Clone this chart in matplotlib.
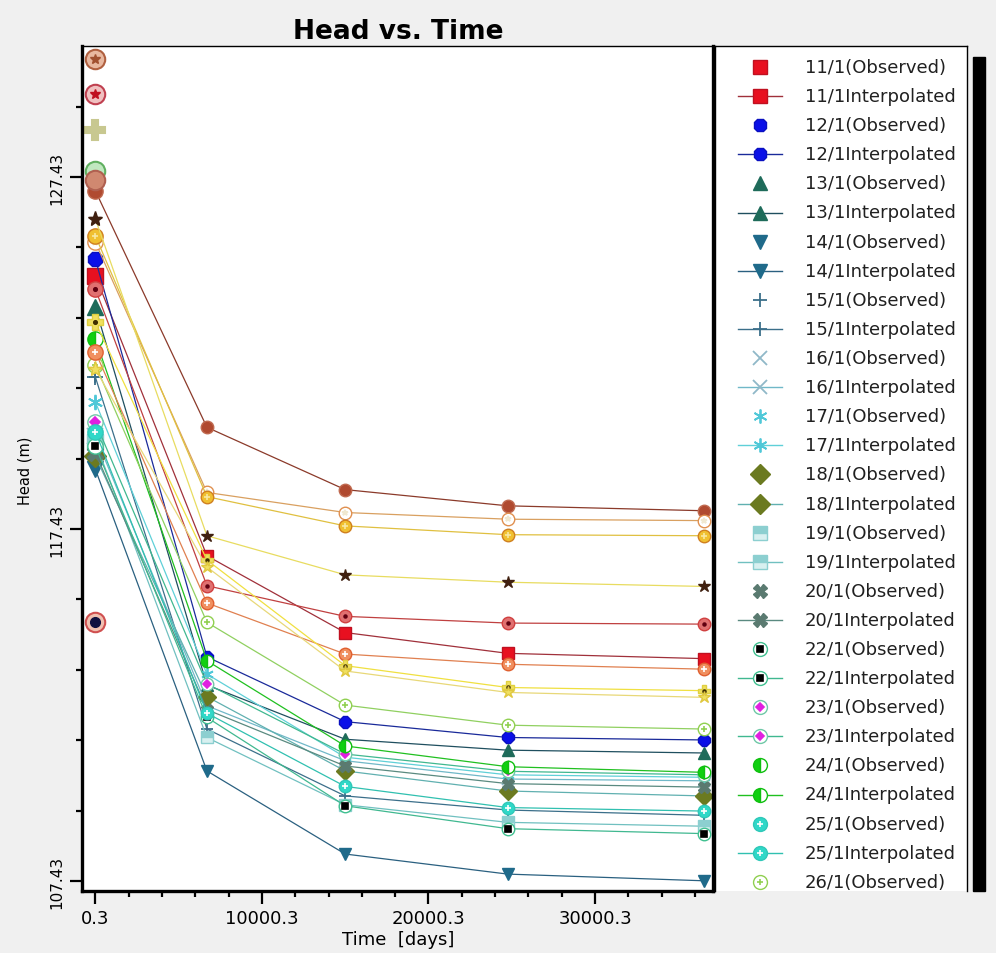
import matplotlib
matplotlib.use("Agg")
import matplotlib.pyplot as plt
from matplotlib.patches import Rectangle

# time of each model output (days)
times = [0.3, 6700, 15000, 24760, 36540]

# interpolated heads (m) per well at the five times
h11 = [124.63, 116.67, 114.49, 113.90, 113.75]
h12 = [125.10, 113.80, 111.96, 111.51, 111.44]
h13 = [123.73, 113.00, 111.46, 111.15, 111.07]
h14 = [119.13, 110.56, 108.20, 107.63, 107.44]
h15 = [121.75, 111.75, 109.85, 109.45, 109.30]
h16 = [120.07, 112.41, 110.85, 110.33, 110.28]
h17 = [121.04, 113.31, 110.95, 110.45, 110.38]
h18 = [119.50, 112.67, 110.56, 109.99, 109.85]
h19 = [119.90, 111.51, 109.60, 109.10, 108.99]
h20 = [119.60, 112.30, 110.70, 110.20, 110.10]
h22 = [119.79, 112.08, 109.57, 108.92, 108.78]
h23 = [120.47, 113.03, 111.04, 110.55, 110.45]
h24 = [122.83, 113.69, 111.27, 110.68, 110.52]
h25 = [120.20, 112.20, 110.12, 109.52, 109.42]
h26 = [122.10, 114.78, 112.43, 111.86, 111.75]
h27 = [127.04, 120.32, 118.55, 118.09, 117.95]
h28 = [125.58, 118.47, 117.90, 117.71, 117.67]
h29 = [125.76, 118.35, 117.52, 117.27, 117.24]
h30 = [126.24, 117.24, 116.13, 115.92, 115.80]
h31 = [124.25, 115.82, 114.95, 114.76, 114.73]
h32 = [122.46, 115.33, 113.88, 113.59, 113.45]
h33 = [123.31, 116.55, 113.55, 112.93, 112.84]
h34 = [121.98, 116.35, 113.40, 112.79, 112.65]

wells = ["11/1", "12/1", "13/1", "14/1", "15/1", "16/1", "17/1", "18/1", "19/1", "20/1",
         "22/1", "23/1", "24/1", "25/1", "26/1", "27/1", "28/1", "29/1", "30/1", "31/1",
         "32/1", "33/1", "34/1"]
interp = [h11, h12, h13, h14, h15, h16, h17, h18, h19, h20, h22, h23, h24, h25, h26,
          h27, h28, h29, h30, h31, h32, h33, h34]

# observed heads at t = 0.3 without a matching line
extra_obs_head = [130.78, 129.79, 128.77, 127.61, 127.33, 114.80]

x_major = [0.3, 10000.3, 20000.3, 30000.3]
y_major = [107.43, 117.43, 127.43]

# style: line colour, marker, face, edge, fillstyle, alt face, inner marker, inner colour
S = {
    "11/1": ("#a0303a", "s", "#e81020", "#c01020", "full", None, None, None),
    "12/1": ("#1a2a9a", "8", "#0a10e8", "#0a10c0", "full", None, None, None),
    "13/1": ("#1f4f5f", "^", "#1e6b5a", "#1e6b5a", "full", None, None, None),
    "14/1": ("#2a6080", "v", "#1f6a8a", "#1f6a8a", "full", None, None, None),
    "15/1": ("#3b6f8a", "+", "#3b6f8a", "#3b6f8a", "full", None, None, None),
    "16/1": ("#70b8c8", "x", "#90b8c8", "#90b8c8", "full", None, None, None),
    "17/1": ("#5fd0d8", (6, 2, 0), "#50c8d8", "#50c8d8", "full", None, None, None),
    "18/1": ("#60b0b0", "D", "#6b7a20", "#6b7a20", "full", None, None, None),
    "19/1": ("#70c0c0", "s", "#8ccfd0", "#8ccfd0", "top", "#d8f0f0", None, None),
    "20/1": ("#5a8a80", "X", "#5a7a70", "#5a7a70", "full", None, None, None),
    "22/1": ("#40b890", "o", "white", "#40c090", "full", None, "s", "black"),
    "23/1": ("#40b890", "o", "white", "#70c8a8", "full", None, "D", "#e020e0"),
    "24/1": ("#20c020", "o", "#10d010", "#10c010", "left", "white", None, None),
    "25/1": ("#30c0b0", "o", "#30d8c8", "#30c8b8", "full", None, "+", "white"),
    "26/1": ("#90d060", "o", "white", "#90d050", "full", None, "+", "#90d050"),
    "27/1": ("#8b3a2a", "o", "#b04a30", "#c06a50", "full", None, None, None),
    "28/1": ("#d9a060", "o", "white", "#e09050", "full", None, "*", "#f0e8d0"),
    "29/1": ("#e0c040", "o", "#f0c030", "#d08020", "full", None, "+", "#f8e8a0"),
    "30/1": ("#e8dc60", "*", "#402010", "#402010", "full", None, None, None),
    "31/1": ("#c04040", "o", "#e07070", "#d04040", "full", None, ".", "#600010"),
    "32/1": ("#e08050", "o", "#f09060", "#e06030", "full", None, "+", "white"),
    "33/1": ("#f0e040", "P", "#f0e060", "#e0d040", "full", None, ".", "#403000"),
    "34/1": ("#e8d878", "*", "#f0e060", "#e0c840", "full", None, None, None),
}

extra_styles = [
    ("o", "#e8b8a0", "#b06040", "*", "#a05030"),
    ("o", "#f0c0c0", "#c04050", "*", "#c01020"),
    ("P", "#c8c890", "#c8c890", None, None),
    ("o", "#c0e8c0", "#60b060", None, None),
    ("o", "#d08870", "#b06050", None, None),
    ("o", "#f0c0b0", "#d05050", "o", "#101040"),
]


def draw(ax, x, y, st, with_line=True, ms=9, lw=0.9, clip=True):
    lc, mk, fc, ec, fs, alt, inner, ic = st
    kw = dict(marker=mk, markersize=ms, markerfacecolor=fc, markeredgecolor=ec,
              fillstyle=fs, clip_on=clip)
    if alt is not None:
        kw["markerfacecoloralt"] = alt
    if mk in ("+", "x", (6, 2, 0)):
        kw["markeredgewidth"] = 1.3
    ax.plot(x, y, color=lc, linewidth=lw if with_line else 0,
            linestyle="-" if with_line else "none", **kw)
    if inner is not None:
        ax.plot(x, y, linestyle="none", marker=inner, markersize=ms * 0.45,
                color=ic, markeredgecolor=ic, markeredgewidth=1.2, clip_on=clip)


fig = plt.figure(figsize=(9.96, 9.54), dpi=100)
fig.patch.set_facecolor("#f0f0f0")
ax = fig.add_axes([82 / 996, 62 / 954, 631 / 996, 845 / 954])
ax.set_facecolor("white")

for name, hv in zip(wells, interp):
    draw(ax, times, hv, S[name])
    draw(ax, times[:1], hv[:1], S[name], with_line=False, ms=11)

for hv, (mk, fc, ec, inner, ic) in zip(extra_obs_head, extra_styles):
    ax.plot([times[0]], [hv], linestyle="none", marker=mk, markersize=14,
            markerfacecolor=fc, markeredgecolor=ec, markeredgewidth=1.5, clip_on=False)
    if inner is not None:
        ax.plot([times[0]], [hv], linestyle="none", marker=inner, markersize=7,
                color=ic, clip_on=False)

ax.set_xlim(-800, 37080)
ax.set_ylim(107.15, 131.15)
ax.set_xticks(x_major)
ax.set_xticklabels([f"{v:.1f}" for v in x_major], fontsize=13)
ax.set_xticks([0.3 + 2000 * k for k in range(19)], minor=True)
ax.set_yticks(y_major)
ax.set_yticklabels([f"{v:.2f}" for v in y_major], fontsize=11, rotation=90, va="center")
ax.set_yticks([107.43 + 2 * k for k in range(12)], minor=True)
ax.tick_params(which="major", direction="out", length=9, width=1.6, pad=4)
ax.tick_params(which="minor", direction="out", length=4.5, width=1.6)
for side in ("left", "bottom", "right"):
    ax.spines[side].set_linewidth(2.4)
ax.spines["top"].set_linewidth(1.0)

fig.text(398 / 996, 1 - 32 / 954, "Head vs. Time", ha="center", va="center",
         fontsize=19, fontweight="bold")
fig.text(398 / 996, 1 - 940 / 954, "Time  [days]", ha="center", va="center", fontsize=13)
fig.text(25 / 996, 1 - 471 / 954, "Head (m)", ha="center", va="center",
         fontsize=10.5, rotation=90)

# legend panel: only the rows that fit in the visible box
lg = fig.add_axes([715 / 996, 62 / 954, 252 / 996, 845 / 954])
lg.set_xlim(0, 252)
lg.set_ylim(845, 0)
lg.set_xticks([])
lg.set_yticks([])
lg.spines["bottom"].set_visible(False)
for side in ("left", "top", "right"):
    lg.spines[side].set_linewidth(1.0)
row = 0
for name in wells:
    for kind in ("(Observed)", "Interpolated"):
        yy = 21 + 29.1 * row
        row += 1
        if yy > 845 - 9:
            continue
        if kind == "Interpolated":
            lg.plot([23, 67], [yy, yy], color=S[name][0], linewidth=1.0)
        draw(lg, [45], [yy], S[name], with_line=False, ms=10)
        lg.text(90, yy, name + kind, fontsize=13, va="center", ha="left", color="#202020")

fig.patches.append(Rectangle((973 / 996, 62 / 954), 12 / 996, 834 / 954,
                             transform=fig.transFigure, color="black"))

fig.savefig("out.png", dpi=100, facecolor=fig.get_facecolor())
